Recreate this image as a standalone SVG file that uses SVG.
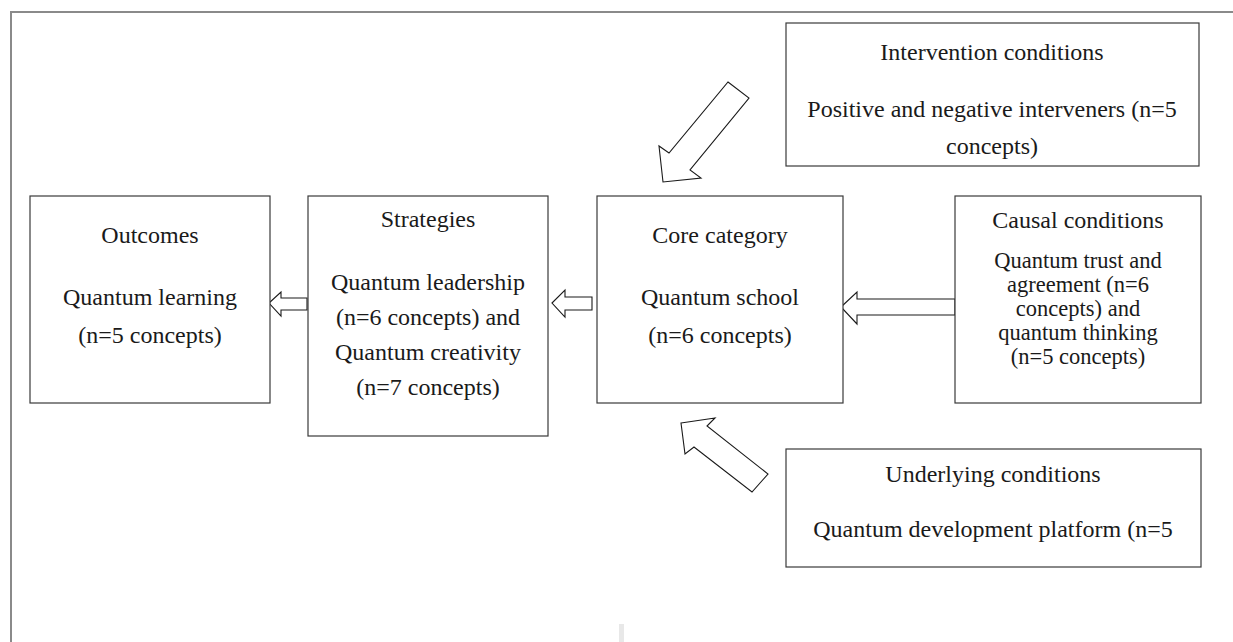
<svg xmlns="http://www.w3.org/2000/svg" width="1233" height="642" viewBox="0 0 1233 642">
<style>
.frame{fill:none;stroke:#8a8a8a;stroke-width:2}
.box{fill:#fff;stroke:#3a3a3a;stroke-width:1.2}
.arrow{fill:#fff;stroke:#1a1a1a;stroke-width:1.1;stroke-linejoin:miter}
text{font-family:"Liberation Serif","Times New Roman",serif;font-size:24px;fill:#1a1a1a;text-anchor:middle}
.tight{font-size:22.5px}
</style>
<rect width="1233" height="642" fill="#fff"/>
<path class="frame" d="M11,642 V12 H1233"/>
<rect x="619" y="624" width="5" height="18" fill="#e8e8e8"/>
<g id="connectors">
<polygon class="arrow" points="269,303 281,292 281,298 307,298 307,310 281,310 281,316"/>
<polygon class="arrow" points="552,303 565,290 565,297 592,297 592,310 565,310 565,317"/>
<polygon class="arrow" points="841,307 857,292 857,299 955,299 955,315 857,315 857,324"/>
<polygon class="arrow" points="728,82 749,98 690,170 701,178 663,182 659,146 669,153"/>
<polygon class="arrow" points="681,423 715,418 707,426 768,474 752,492 694,447 685,454"/>
</g>
<g id="outcomes">
<rect class="box" x="30" y="196" width="240" height="207"/>
<text x="150" y="243">Outcomes</text>
<text x="150" y="305">Quantum learning</text>
<text x="150" y="343">(n=5 concepts)</text>
</g>
<g id="strategies">
<rect class="box" x="308" y="196" width="240" height="240"/>
<text x="428" y="227">Strategies</text>
<text x="428" y="290">Quantum leadership</text>
<text x="428" y="325">(n=6 concepts) and</text>
<text x="428" y="360">Quantum creativity</text>
<text x="428" y="395">(n=7 concepts)</text>
</g>
<g id="core">
<rect class="box" x="597" y="196" width="246" height="207"/>
<text x="720" y="243">Core category</text>
<text x="720" y="305">Quantum school</text>
<text x="720" y="343">(n=6 concepts)</text>
</g>
<g id="causal">
<rect class="box" x="955" y="196" width="246" height="207"/>
<text x="1078" y="228">Causal conditions</text>
<text class="tight" x="1078" y="268">Quantum trust and</text>
<text class="tight" x="1078" y="292">agreement (n=6</text>
<text class="tight" x="1078" y="316">concepts) and</text>
<text class="tight" x="1078" y="340">quantum thinking</text>
<text class="tight" x="1078" y="364">(n=5 concepts)</text>
</g>
<g id="intervention">
<rect class="box" x="786" y="23" width="413" height="143"/>
<text x="992" y="60">Intervention conditions</text>
<text x="992" y="117">Positive and negative interveners (n=5</text>
<text x="992" y="154">concepts)</text>
</g>
<g id="underlying">
<rect class="box" x="786" y="449" width="415" height="118"/>
<text x="993" y="482">Underlying conditions</text>
<text x="993" y="537">Quantum development platform (n=5</text>
</g>
</svg>
